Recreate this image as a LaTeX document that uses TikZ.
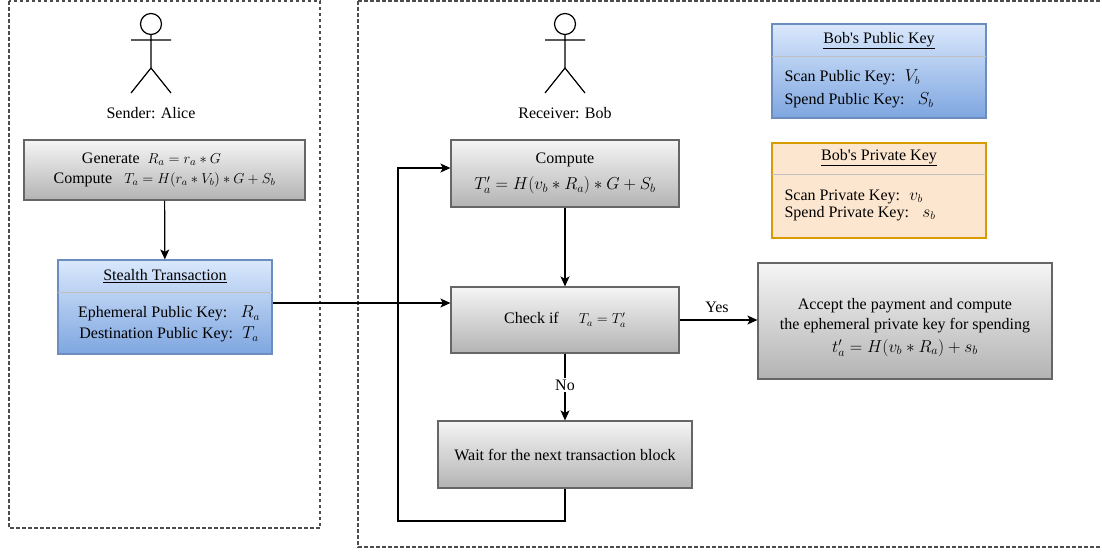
\documentclass[tikz,border=0pt]{standalone}
\usepackage{fontspec}
\setmainfont{Liberation Serif}
\usetikzlibrary{arrows.meta}
\definecolor{gstroke}{HTML}{666666}
\definecolor{gtop}{HTML}{F5F5F5}
\definecolor{gbot}{HTML}{B3B3B3}
\definecolor{btop}{HTML}{DAE8FC}
\definecolor{bbot}{HTML}{7EA6E0}
\definecolor{bstroke}{HTML}{6C8EBF}
\definecolor{ofill}{HTML}{FCE6CF}
\definecolor{ostroke}{HTML}{D79B00}
\newcommand{\msz}[2]{{\fontsize{#1}{#1}\selectfont$#2$}}
\tikzset{
  every node/.style={font=\fontsize{16}{19}\selectfont},
  greybox/.style={draw=gstroke, line width=1.2pt, top color=gtop, bottom color=gbot, inner sep=0pt, align=center},
  bluebox/.style={draw=bstroke, line width=1.2pt, top color=btop, bottom color=bbot, inner sep=0pt},
  orangebox/.style={draw=ostroke, line width=1.2pt, fill=ofill, inner sep=0pt},
  lane/.style={draw=black!70, line width=1.3pt, dash pattern=on 3.5pt off 2.5pt},
  divider/.style={draw=black!25, line width=1.6pt},
  arr/.style={draw=black, line width=1.2pt, -{Stealth[length=10pt,width=9pt,inset=2.5pt]}},
  actor/.pic={
    \draw[line width=1.2pt] (0,24) circle[radius=10.5];
    \draw[line width=1.2pt] (0,34.5) -- (0,68) (-20,40) -- (20,40) (-20,93) -- (0,68) -- (20,93);
  }
}
\begin{document}
\begin{tikzpicture}[x=1pt,y=-1pt]
\useasboundingbox (0,0) rectangle (1102,554);
% lanes
\draw[lane] (9,1) rectangle (320,528);
\draw[lane] (358,1) -- (1110,1);
\draw[lane] (358,1) -- (358,547) -- (1110,547);
% actors
\pic at (151,0) {actor};
\node (alice) at (151,113) {Sender: Alice};
\pic at (565,0) {actor};
\node (bob) at (565,113) {Receiver: Bob};
% Alice
\node[greybox, minimum width=281pt, minimum height=60pt] (gen) at (164.5,170)
  {Generate \ \msz{15}{R_a=r_a*G}\hspace*{26pt}\\[1pt] Compute \ \ \msz{13.8}{T_a=H(r_a*V_b)*G+S_b}};
\node[bluebox, minimum width=214pt, minimum height=94pt] (st) at (165,307) {};
\draw[divider] ([yshift=-33pt,xshift=0.6pt]st.north west) -- ([yshift=-33pt,xshift=-0.6pt]st.north east);
\node (sth) at (165,276) {\underline{Stealth Transaction}};
\node[align=center] (stb) at (169,324) {Ephemeral Public Key: \ \ $R_a$\\[2pt]Destination Public Key: \ $T_a$};
% Bob public/private keys
\node[bluebox, minimum width=214pt, minimum height=94pt] (pub) at (879,71) {};
\draw[divider] ([yshift=-33pt,xshift=0.6pt]pub.north west) -- ([yshift=-33pt,xshift=-0.6pt]pub.north east);
\node (pubh) at (879,40.5) {\underline{Bob\textquotesingle s Public Key}};
\node[anchor=west, align=left] (pubb) at (781,89) {Scan Public Key: \ $V_b$\\[4pt]Spend Public Key: \ \ $S_b$};
\node[orangebox, minimum width=214pt, minimum height=95pt] (priv) at (879,190.5) {};
\draw[divider] ([yshift=-32pt,xshift=0.6pt]priv.north west) -- ([yshift=-32pt,xshift=-0.6pt]priv.north east);
\node (privh) at (879,158) {\underline{Bob\textquotesingle s Private Key}};
\node[anchor=west, align=left] (privb) at (781,205) {Scan Private Key: \ $v_b$\\[-2pt]Spend Private Key: \ \ $s_b$};
% Bob flow
\node[greybox, minimum width=228pt, minimum height=67pt] (cmp) at (565,173.5)
  {Compute\\[7pt] \msz{18}{T_a'=H(v_b*R_a)*G+S_b}};
\node[greybox, minimum width=228pt, minimum height=66pt] (chk) at (565,320)
  {Check if \quad \msz{14.5}{T_a=T_a'}};
\node[greybox, minimum width=254pt, minimum height=67pt] (wait) at (565,454.5)
  {Wait for the next transaction block};
\node[greybox, minimum width=294pt, minimum height=116pt] (acc) at (905,321)
  {\rule{0pt}{24pt}Accept the payment and compute\\[1pt] the ephemeral private key for spending\\[4pt] \msz{18.5}{t_a'=H(v_b*R_a)+s_b}};
% connectors
\draw[arr] (gen) -- (st);
\draw[arr] ([yshift=4pt]st.east) -- ([yshift=4pt]st.east -| chk.west);
\draw[arr] (cmp) -- (chk);
\draw[arr] (chk.east) -- node[above=3pt, pos=0.48] (yes) {Yes} (chk.east -| acc.west);
\draw[arr] (chk) -- node[fill=white, inner sep=2pt, pos=0.47] (no) {No} (wait);
\coordinate (lp) at (398,521);
\draw[arr] (wait.south) |- (lp) |- ([yshift=5.5pt]cmp.west);
\end{tikzpicture}
\end{document}
